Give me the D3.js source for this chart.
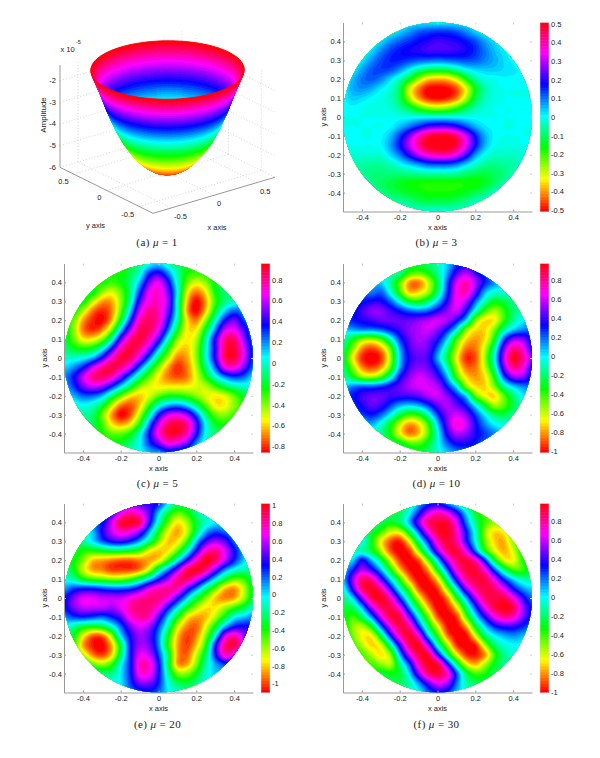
<!DOCTYPE html>
<html>
<head>
<meta charset="utf-8">
<script src="https://cdn.jsdelivr.net/npm/d3@7"></script>
<style>
  body { margin: 0; background: #fff; }
  text { font-family: "Liberation Sans", sans-serif; font-size: 7.5px; fill: #222; }
  .caption { font-family: "Liberation Serif", serif; font-size: 11px; fill: #222; letter-spacing: 0.4px; }
  .axis path, .axis line { stroke: #999; }
  .faint path { stroke: none; }
  .faint line { stroke: #ccc; }
</style>
</head>
<body>
<div id="chart"></div>
<script>
// panel (a): amplitude (x 10^-5) along the radius
const bowlRadii = [0, 0.07, 0.14, 0.21, 0.28, 0.35, 0.42, 0.49, 0.56, 0.63, 0.71];
const bowlAmps = [-6, -5.96, -5.85, -5.65, -5.36, -4.97, -4.47, -3.85, -3.08, -2.2, -1.28];
const bowlTicksXY = [-0.5, 0, 0.5];
const bowlTicksZ = [-6, -5, -4, -3, -2];

const xTicks = [-0.4, -0.2, 0, 0.2, 0.4];
const yTicks = [-0.4, -0.3, -0.2, -0.1, 0, 0.1, 0.2, 0.3, 0.4];

// fields in hundredths, rows from y=0.5 down to y=-0.5, columns from x=-0.5 to x=0.5, step 0.05
const fieldB = [
    [0,0,0,0,0,0,1,2,2,2,2,2,2,2,1,0,0,0,0,0,0],
    [0,0,0,0,0,1,4,8,12,14,15,15,13,9,4,1,0,0,0,0,0],
    [0,0,0,0,3,8,12,15,18,20,22,21,20,17,13,7,3,0,0,0,0],
    [0,0,0,3,9,14,17,19,20,22,22,22,21,19,15,10,5,2,0,0,0],
    [0,0,2,8,13,16,16,14,12,11,10,11,12,13,12,9,6,3,1,0,0],
    [0,1,7,12,14,13,8,1,-6,-11,-12,-11,-6,0,3,4,4,3,2,1,0],
    [0,5,10,12,9,3,-4,-14,-27,-36,-38,-37,-30,-17,-6,-1,0,1,1,1,0],
    [1,6,8,6,2,-2,-10,-30,-42,-50,-51,-50,-45,-32,-15,-5,-1,0,0,0,0],
    [1,4,3,1,-1,-3,-10,-27,-40,-48,-50,-48,-42,-28,-12,-4,-1,0,0,0,0],
    [0,1,0,-1,-1,-2,-6,-12,-20,-26,-28,-26,-20,-12,-5,-2,0,0,0,0,0],
    [0,0,0,0,0,0,0,0,0,0,0,0,0,0,0,0,0,0,0,0,0],
    [0,0,0,0,0,1,5,10,16,22,24,24,20,13,6,2,1,0,0,0,0],
    [0,0,0,0,1,5,14,26,38,47,50,50,44,32,17,6,1,0,0,0,0],
    [0,0,0,0,1,7,17,30,42,50,52,52,47,34,18,6,0,-1,-1,0,0],
    [-1,-2,-2,-2,-2,3,10,20,30,37,40,40,34,22,8,0,-3,-3,-3,-2,-1],
    [-1,-3,-5,-6,-6,-4,0,4,8,12,13,13,10,4,-2,-6,-7,-6,-5,-2,-1],
    [-2,-3,-5,-8,-8,-8,-8,-7,-6,-5,-5,-5,-6,-9,-11,-12,-10,-8,-4,-2,-1],
    [-2,-3,-4,-7,-10,-12,-14,-16,-17,-18,-18,-18,-18,-17,-17,-14,-10,-5,-3,-2,-1],
    [-2,-3,-4,-5,-7,-10,-12,-14,-15,-17,-17,-17,-16,-14,-11,-8,-3,-2,-1,-1,-1],
    [-1,-1,-2,-2,-3,-4,-5,-7,-10,-11,-11,-11,-9,-7,-3,-2,-1,-1,-1,-1,-1],
    [-1,-1,-1,-1,-1,-1,-1,-2,-2,-2,-2,-2,-2,-2,-1,-1,-1,-1,-1,-1,-1]
];
const fieldC = [
    [-20,-20,-20,-20,-20,-20,-20,-15,-5,5,10,0,-10,-20,-25,-25,-25,-20,-15,-10,-10],
    [-25,-25,-25,-25,-25,-25,-25,-15,0,30,40,20,-5,-25,-30,-25,-20,-15,-10,-5,-5],
    [-25,-25,-25,-25,-25,-30,-25,-10,15,50,65,40,0,-35,-50,-40,-20,-10,-5,-5,-5],
    [-20,-20,-20,-20,-40,-50,-35,-10,30,65,72,50,5,-50,-70,-55,-25,-10,-5,0,0],
    [-20,-20,-20,-45,-65,-65,-40,-5,45,70,72,55,0,-60,-85,-65,-30,-10,0,5,5],
    [-20,-20,-45,-70,-80,-70,-35,10,60,80,75,50,0,-65,-85,-60,-20,10,25,20,15],
    [-20,-35,-65,-80,-85,-65,-20,30,75,85,75,40,-5,-55,-70,-40,0,35,50,30,20],
    [-15,-40,-70,-80,-70,-40,10,55,85,85,65,25,-20,-55,-55,-20,20,60,65,45,20],
    [-15,-35,-55,-55,-40,-5,45,80,90,75,45,0,-40,-55,-45,-5,40,80,85,55,25],
    [-10,-20,-25,-20,0,35,75,90,80,55,15,-25,-55,-60,-40,0,40,85,90,65,30],
    [0,0,5,15,40,70,90,85,60,25,-15,-45,-70,-65,-40,0,40,85,90,65,30],
    [10,20,35,60,80,90,80,60,25,-10,-40,-65,-80,-70,-45,-10,25,65,70,50,25],
    [20,35,60,80,85,75,50,20,-10,-35,-55,-70,-75,-70,-50,-25,0,20,30,25,10],
    [15,30,50,60,55,35,10,-15,-40,-50,-55,-55,-55,-55,-50,-45,-30,-15,-5,0,0],
    [5,15,25,25,15,-10,-35,-55,-60,-50,-35,-25,-25,-30,-40,-50,-55,-50,-35,-20,-10],
    [0,0,5,0,-15,-45,-70,-75,-60,-30,0,15,20,10,-10,-35,-55,-55,-40,-25,-10],
    [0,0,-5,-10,-35,-65,-85,-75,-45,-5,35,60,65,55,25,-10,-35,-40,-30,-20,-10],
    [-5,-5,-10,-15,-30,-55,-65,-55,-25,20,60,85,90,80,45,5,-20,-25,-20,-10,-10],
    [-10,-10,-15,-20,-25,-35,-35,-25,0,35,70,90,90,75,40,5,-10,-15,-15,-10,-10],
    [-10,-10,-15,-20,-20,-20,-20,-10,5,30,50,70,65,50,20,0,-10,-10,-10,-10,-10],
    [-10,-10,-10,-10,-10,-10,-5,0,5,15,20,30,25,20,10,0,-5,-5,-5,-5,-5]
];
const fieldD = [
    [0,0,0,0,0,0,-15,-25,-25,-20,-10,5,25,35,30,25,20,15,10,10,10],
    [0,0,0,0,0,-5,-15,-40,-45,-35,-15,10,40,55,40,25,15,10,5,5,5],
    [10,10,10,10,5,-15,-45,-80,-85,-60,-25,20,60,75,55,30,15,5,0,0,0],
    [20,20,20,15,20,-5,-40,-75,-72,-55,-20,25,65,75,45,10,-5,-5,-5,-5,-5],
    [30,30,30,35,35,20,-5,-30,-35,-20,5,35,65,55,20,-10,-30,-25,-15,-10,-5],
    [30,30,40,50,50,40,30,20,15,20,35,50,60,35,-5,-40,-55,-40,-20,-10,-5],
    [25,30,35,40,45,45,45,45,50,55,60,55,35,5,-50,-70,-68,-40,-15,0,5],
    [5,10,15,15,20,30,40,50,55,60,50,30,0,-50,-70,-72,-50,-15,5,15,20],
    [-10,-30,-50,-55,-42,-10,25,45,55,50,35,5,-40,-70,-80,-70,-35,20,50,50,30],
    [-20,-50,-82,-92,-80,-45,10,40,50,45,20,-15,-55,-85,-85,-60,-15,45,80,70,35],
    [-25,-65,-95,-102,-95,-55,5,35,45,40,10,-25,-65,-95,-90,-55,-5,55,95,80,50],
    [-20,-50,-82,-92,-80,-45,10,40,50,45,25,-10,-55,-85,-85,-60,-15,45,80,70,35],
    [-10,-30,-50,-55,-42,-10,30,50,60,55,40,10,-40,-70,-80,-70,-35,20,50,50,30],
    [5,15,20,20,25,35,45,55,60,60,55,30,0,-50,-70,-72,-50,-15,5,15,20],
    [25,30,40,45,45,40,40,40,45,55,60,50,30,5,-45,-65,-72,-45,-20,0,5],
    [25,25,35,45,40,25,10,5,10,25,45,55,45,30,0,-30,-55,-45,-25,-10,-5],
    [25,25,25,30,20,0,-25,-40,-35,-10,25,50,60,50,25,0,-20,-25,-15,-10,-5],
    [10,10,10,10,-5,-30,-60,-80,-70,-40,5,45,70,60,35,15,0,-5,-5,-5,-5],
    [0,0,0,-5,-15,-35,-65,-85,-75,-45,-5,35,55,50,35,25,15,5,0,0,0],
    [0,0,0,-5,-10,-20,-30,-45,-45,-30,-5,20,35,35,30,20,15,10,5,5,5],
    [0,0,0,0,-5,-10,-15,-20,-25,-20,-5,5,15,20,20,15,10,10,5,5,5]
];
const fieldE = [
    [30,30,30,30,30,30,50,50,45,40,30,0,-20,-25,-20,-10,0,5,5,5,5],
    [30,30,30,30,30,40,65,80,70,45,5,-30,-50,-40,-20,-5,5,5,5,5,5],
    [20,20,20,25,30,60,95,100,90,40,-10,-50,-75,-60,-30,-10,0,5,5,5,5],
    [0,0,0,5,35,60,75,70,50,10,-35,-70,-85,-65,-25,10,25,20,15,10,5],
    [-15,-15,-15,0,20,35,40,30,10,-20,-55,-80,-75,-45,5,40,55,45,20,10,5],
    [-20,-25,-40,-40,-35,-30,-30,-35,-45,-70,-80,-75,-50,-10,35,75,85,65,35,10,0],
    [-20,-35,-55,-80,-85,-90,-95,-95,-90,-85,-75,-45,-5,35,75,100,90,60,30,5,-10],
    [-15,-35,-65,-85,-90,-100,-100,-100,-90,-65,-20,15,50,90,100,85,50,15,-5,-15,-15],
    [-5,-15,-35,-45,-50,-55,-55,-45,-25,0,30,55,85,90,65,35,0,-30,-50,-45,-25],
    [10,25,30,30,25,20,20,25,40,65,78,82,78,45,15,-20,-50,-80,-88,-65,-30],
    [30,50,65,65,60,60,60,70,80,85,85,72,40,5,-30,-55,-80,-90,-85,-60,-30],
    [30,50,60,60,60,55,65,80,88,85,70,35,0,-35,-60,-75,-75,-60,-45,-30,-10],
    [15,25,30,25,20,30,45,72,82,78,45,5,-35,-72,-85,-82,-62,-35,-5,5,15],
    [0,-15,-30,-35,-30,-10,20,50,65,55,25,-15,-65,-90,-95,-70,-35,5,30,35,30],
    [-10,-35,-70,-95,-95,-60,0,35,55,45,15,-35,-80,-100,-90,-55,-5,60,80,55,35],
    [-15,-35,-85,-105,-110,-85,-30,30,55,50,15,-40,-85,-100,-80,-40,30,85,95,65,35],
    [-15,-30,-60,-90,-100,-80,-25,30,65,60,25,-25,-85,-95,-65,-25,30,75,65,30,20],
    [-10,-20,-30,-50,-60,-45,-5,30,75,75,35,-25,-85,-85,-55,-15,10,25,20,10,5],
    [-5,-10,-15,-20,-20,-20,0,30,70,70,35,-15,-55,-55,-35,-10,5,5,5,5,5],
    [-5,-5,-10,-10,-10,-5,0,25,50,50,30,-5,-25,-30,-20,-5,0,0,0,0,0],
    [-5,-5,-5,-5,-5,0,5,15,25,30,20,0,-10,-15,-10,-5,0,0,0,0,0]
];
const fieldF = [
    [-10,-10,-10,-10,-10,-10,-10,-10,10,30,35,20,0,-20,-35,-35,-30,-20,-15,-10,-10],
    [-15,-15,-15,-15,-15,-15,-20,0,30,60,75,65,40,5,-25,-40,-40,-30,-20,-15,-10],
    [-15,-15,-15,-15,-20,-30,-20,10,50,85,92,92,65,20,-15,-40,-50,-40,-25,-15,-10],
    [-10,-15,-15,-25,-40,-60,-60,-25,20,65,92,96,75,35,-5,-50,-70,-65,-40,-25,-15],
    [-5,-10,0,-30,-65,-88,-95,-65,-15,30,75,92,80,40,0,-45,-70,-75,-50,-30,-15],
    [0,-5,-10,-25,-55,-88,-100,-92,-50,0,50,85,92,65,20,-30,-60,-75,-60,-30,-15],
    [5,5,35,10,-20,-60,-92,-100,-88,-45,5,55,85,92,75,30,-25,-60,-65,-35,-15],
    [5,30,55,40,10,-30,-72,-96,-100,-78,-30,20,70,90,92,70,25,-15,-40,-40,-20],
    [10,50,85,80,45,5,-35,-78,-100,-96,-68,-15,40,80,90,90,65,30,5,-10,-10],
    [-5,40,85,95,80,40,-5,-45,-88,-100,-92,-50,0,50,80,90,85,65,35,15,5],
    [-15,5,50,88,96,75,30,-15,-60,-92,-100,-82,-35,10,55,85,90,90,70,40,20],
    [-25,-20,10,55,85,90,65,15,-30,-72,-100,-96,-68,-20,25,65,90,97,90,55,30],
    [-25,-40,-20,15,60,90,90,50,0,-45,-88,-100,-92,-45,0,35,65,80,75,50,30],
    [-20,-50,-55,-30,20,65,90,80,30,-20,-62,-96,-100,-78,-30,5,30,40,40,30,20],
    [-15,-45,-65,-65,-25,30,75,95,70,10,-35,-82,-100,-100,-62,-20,0,10,15,10,5],
    [-15,-35,-55,-70,-60,-15,40,85,95,55,-5,-50,-92,-100,-96,-55,-20,-5,0,0,0],
    [-15,-30,-40,-55,-68,-50,10,60,90,92,40,-15,-62,-92,-96,-80,-40,-15,-5,0,0],
    [-15,-25,-35,-40,-50,-55,-15,25,75,95,92,40,-15,-60,-75,-55,-30,-15,-10,-5,-5],
    [-15,-15,-25,-30,-25,-30,-25,5,50,85,92,75,25,-20,-40,-35,-20,-15,-10,-5,-5],
    [-10,-15,-15,-20,-20,-20,-20,-10,15,45,65,55,20,-10,-20,-20,-15,-10,-10,-5,-5],
    [-10,-10,-10,-10,-10,-10,-10,-5,0,20,35,30,10,-5,-10,-10,-10,-5,-5,-5,-5]
];

const barTicksB = [-0.5, -0.4, -0.3, -0.2, -0.1, 0, 0.1, 0.2, 0.3, 0.4, 0.5];
const barTicksC = [-0.8, -0.6, -0.4, -0.2, 0, 0.2, 0.4, 0.6, 0.8];
const barTicksD = [-1, -0.8, -0.6, -0.4, -0.2, 0, 0.2, 0.4, 0.6, 0.8];
const barTicksE = [-1, -0.8, -0.6, -0.4, -0.2, 0, 0.2, 0.4, 0.6, 0.8, 1];
const barTicksF = [-1, -0.8, -0.6, -0.4, -0.2, 0, 0.2, 0.4, 0.6, 0.8];

const LEVELS = 64;
const levels = d3.range(LEVELS);
const GRID = 21;
const FINE = 5; // resampling of the grid for drawing, so the bands come out round

const svg = d3.select('#chart').append('svg')
    .attr('width', 600)
    .attr('height', 758);

// the colormap: red, yellow, green, cyan, blue, magenta, red
let levelColor = function (k) {
    return d3.hsl(k / LEVELS * 360, 1, 0.5).formatHex();
};

let addCaption = function (letter, mu, x, y) {
    let t = svg.append('text').attr('class', 'caption')
        .attr('x', x).attr('y', y).attr('text-anchor', 'middle');
    t.append('tspan').text('(' + letter + ')  ');
    t.append('tspan').style('font-style', 'italic').text('μ');
    t.append('tspan').text(' = ' + mu);
};

// catmull-rom weights
let cubic = function (t) {
    return [
        -0.5 * t + t * t - 0.5 * t * t * t,
        1 - 2.5 * t * t + 1.5 * t * t * t,
        0.5 * t + 2 * t * t - 1.5 * t * t * t,
        -0.5 * t * t + 0.5 * t * t * t
    ];
};

let resample = function (field) {
    let n = (GRID - 1) * FINE + 1;
    let out = new Array(n * n);
    let at = function (r, c) {
        return field[Math.max(0, Math.min(GRID - 1, r))][Math.max(0, Math.min(GRID - 1, c))] / 100;
    };
    for (let j = 0; j < n; j++) {
        let r0 = Math.min(GRID - 2, Math.floor(j / FINE));
        let wr = cubic(j / FINE - r0);
        for (let i = 0; i < n; i++) {
            let c0 = Math.min(GRID - 2, Math.floor(i / FINE));
            let wc = cubic(i / FINE - c0);
            let v = 0;
            for (let a = 0; a < 4; a++) {
                for (let b = 0; b < 4; b++) {
                    v += wr[a] * wc[b] * at(r0 + a - 1, c0 + b - 1);
                }
            }
            out[j * n + i] = v;
        }
    }
    return { values: out, n: n };
};

let drawPanel = function (id, field, domain, barTicks, left, top, mu, captionY) {
    const size = 189;
    let g = svg.append('g').attr('transform', 'translate(' + left + ',' + top + ')');

    let xScale = d3.scaleLinear().domain([-0.5, 0.5]).range([0, size]);
    let yScale = d3.scaleLinear().domain([-0.5, 0.5]).range([size, 0]);

    g.append('clipPath').attr('id', 'disc-' + id)
        .append('circle')
        .attr('cx', xScale(0)).attr('cy', yScale(0)).attr('r', xScale(0.5) - xScale(0));

    let fine = resample(field);
    let colScale = d3.scaleLinear().domain([0, fine.n - 1]).range([-0.5, 0.5]);
    let rowScale = d3.scaleLinear().domain([0, fine.n - 1]).range([0.5, -0.5]);
    let step = (domain[1] - domain[0]) / LEVELS;
    let contours = d3.contours().size([fine.n, fine.n])
        .thresholds(levels.slice(1).map(function (k) { return domain[0] + k * step; }))(fine.values);

    let path = d3.geoPath(d3.geoTransform({
        point: function (x, y) {
            this.stream.point(xScale(colScale(x - 0.5)), yScale(rowScale(y - 0.5)));
        }
    }));

    let disc = g.append('g').attr('clip-path', 'url(#disc-' + id + ')');
    disc.append('circle')
        .attr('cx', xScale(0)).attr('cy', yScale(0)).attr('r', xScale(0.5) - xScale(0))
        .attr('fill', levelColor(0));
    disc.selectAll('path').data(contours).enter().append('path')
        .attr('d', path)
        .attr('fill', function (d, i) { return levelColor(i + 1); });

    // ticks on the top and right side are barely visible
    g.append('g').attr('class', 'faint').call(d3.axisBottom(xScale).tickValues(xTicks).tickSize(2).tickFormat(''));
    g.append('g').attr('class', 'faint').attr('transform', 'translate(' + size + ',0)')
        .call(d3.axisLeft(yScale).tickValues(yTicks).tickSize(2).tickFormat(''));

    g.append('g').attr('class', 'axis').attr('transform', 'translate(0,' + size + ')')
        .call(d3.axisBottom(xScale).tickValues(xTicks).tickSizeInner(-2).tickSizeOuter(0).tickPadding(3).tickFormat(function (d) { return d; }));
    g.append('g').attr('class', 'axis')
        .call(d3.axisLeft(yScale).tickValues(yTicks).tickSizeInner(-2).tickSizeOuter(0).tickPadding(2).tickFormat(function (d) { return d; }));

    g.append('text').attr('x', xScale(0)).attr('y', size + 18).attr('text-anchor', 'middle').text('x axis');
    g.append('text').attr('text-anchor', 'middle')
        .attr('transform', 'translate(-17,' + yScale(0) + ') rotate(-90)').text('y axis');

    // colorbar
    let barX = size + 8, barW = 9;
    let bar = g.append('g').attr('transform', 'translate(' + barX + ',0)');
    let barBand = d3.scaleBand().domain(levels).range([size, 0]);
    bar.selectAll('rect').data(levels).enter().append('rect')
        .attr('x', 0).attr('width', barW)
        .attr('y', function (d) { return barBand(d); })
        .attr('height', barBand.bandwidth() + 0.5)
        .attr('fill', function (d) { return levelColor(d); });
    bar.append('rect').attr('width', barW).attr('height', size)
        .attr('fill', 'none').attr('stroke', '#ddd').attr('stroke-width', 0.5);
    let barScale = d3.scaleLinear().domain(domain).range([size, 0]);
    bar.append('g').attr('transform', 'translate(' + barW + ',0)')
        .call(d3.axisRight(barScale).tickValues(barTicks).tickSize(0).tickPadding(2).tickFormat(function (d) { return d; }))
        .call(function (a) { a.select('.domain').remove(); });

    addCaption(id, mu, left + size / 2 - 1, captionY);
};

let drawBowl = function () {
    // orthographic view, pixel offsets per unit along each data axis
    const origin = [167.5, 172.3];
    const ex = [85.9, -25.4], ey = [-65.5, -32.4], ez = -21.67;
    const lim = 0.71, zMin = -6, zMax = -1.28;

    let project = function (x, y, z) {
        return [origin[0] + ex[0] * x + ey[0] * y, origin[1] + ex[1] * x + ey[1] * y + ez * (z - zMin)];
    };
    let depth = function (x, y, z) {
        return (25.4 * x + 32.4 * y) / 41.1 * 0.925 - (z - zMin) * 0.2154 * 0.38;
    };
    let line = function (a, b, cls) {
        let p = project(a[0], a[1], a[2]), q = project(b[0], b[1], b[2]);
        let l = svg.append('line').attr('x1', p[0]).attr('y1', p[1]).attr('x2', q[0]).attr('y2', q[1]);
        if (cls === 'grid') {
            l.attr('stroke', '#bbb').attr('stroke-width', 0.6).attr('stroke-dasharray', '1,2');
        } else {
            l.attr('stroke', '#999').attr('stroke-width', 1);
        }
    };

    // grid on the floor and the two back walls
    bowlTicksXY.forEach(function (t) {
        line([t, -lim, zMin], [t, lim, zMin], 'grid');
        line([-lim, t, zMin], [lim, t, zMin], 'grid');
        line([t, lim, zMin], [t, lim, zMax], 'grid');
        line([lim, t, zMin], [lim, t, zMax], 'grid');
    });
    bowlTicksZ.forEach(function (z) {
        line([-lim, lim, z], [lim, lim, z], 'grid');
        line([lim, lim, z], [lim, -lim, z], 'grid');
    });
    line([lim, lim, zMin], [lim, lim, zMax], 'grid');

    line([-lim, lim, zMin], [-lim, lim, zMax], 'axis');
    line([-lim, lim, zMin], [-lim, -lim, zMin], 'axis');
    line([-lim, -lim, zMin], [lim, -lim, zMin], 'axis');

    // surface mesh, sorted back to front
    let amp = d3.scaleLinear().domain(bowlRadii).range(bowlAmps);
    let radii = d3.range(0, 91).map(function (i) { return i / 90 * lim; });
    let angles = d3.range(0, 97).map(function (i) { return i / 96 * 2 * Math.PI; });
    let hue = d3.scaleLinear().domain([zMin, zMax]).range([0, 360]);
    let quads = [];
    d3.pairs(radii).forEach(function (rr) {
        d3.pairs(angles).forEach(function (aa) {
            let corners = [[rr[0], aa[0]], [rr[1], aa[0]], [rr[1], aa[1]], [rr[0], aa[1]]].map(function (c) {
                return [c[0] * Math.cos(c[1]), c[0] * Math.sin(c[1]), amp(c[0])];
            });
            let rm = (rr[0] + rr[1]) / 2, am = (aa[0] + aa[1]) / 2;
            quads.push({
                points: corners.map(function (c) { return project(c[0], c[1], c[2]); }),
                depth: depth(rm * Math.cos(am), rm * Math.sin(am), amp(rm)),
                color: d3.hsl(hue(amp(rm)), 1, 0.5).formatHex()
            });
        });
    });
    quads.sort(function (a, b) { return b.depth - a.depth; });
    svg.append('g').selectAll('path').data(quads).enter().append('path')
        .attr('d', function (d) { return 'M' + d.points.join('L') + 'Z'; })
        .attr('fill', function (d) { return d.color; })
        .attr('stroke', function (d) { return d.color; })
        .attr('stroke-width', 0.9);

    // tick labels
    bowlTicksZ.forEach(function (z) {
        let p = project(-lim, lim, z);
        svg.append('text').attr('x', p[0] - 4).attr('y', p[1] + 2.5).attr('text-anchor', 'end').text(z);
    });
    bowlTicksXY.forEach(function (t) {
        let p = project(t, -lim, zMin);
        svg.append('text').attr('x', p[0] + 3).attr('y', p[1] + 11).text(t);
        let q = project(-lim, t, zMin);
        svg.append('text').attr('x', q[0] - 5).attr('y', q[1] + 10).attr('text-anchor', 'end').text(t);
    });

    svg.append('text').attr('x', 60.5).attr('y', 52).text('x 10');
    svg.append('text').attr('x', 76).attr('y', 44).style('font-size', '5.5px').text('-5');
    svg.append('text').attr('text-anchor', 'middle').style('font-size', '8px')
        .attr('transform', 'translate(46,115) rotate(-90)').text('Amplitude');
    svg.append('text').attr('x', 95.5).attr('y', 227.5).attr('text-anchor', 'middle').text('y axis');
    svg.append('text').attr('x', 217).attr('y', 230).attr('text-anchor', 'middle').text('x axis');

    addCaption('a', 1, 157, 246);
};

drawBowl();
drawPanel('b', fieldB, [-0.508, 0.508], barTicksB, 343, 22.5, 3, 246);
drawPanel('c', fieldC, [-0.86, 0.955], barTicksC, 64, 263.5, 5, 487);
drawPanel('d', fieldD, [-1.02, 0.97], barTicksD, 343, 263.5, 10, 487);
drawPanel('e', fieldE, [-1.1, 1.02], barTicksE, 64, 503.5, 20, 728);
drawPanel('f', fieldF, [-1.0, 0.98], barTicksF, 343, 503.5, 30, 728);
</script>
</body>
</html>
